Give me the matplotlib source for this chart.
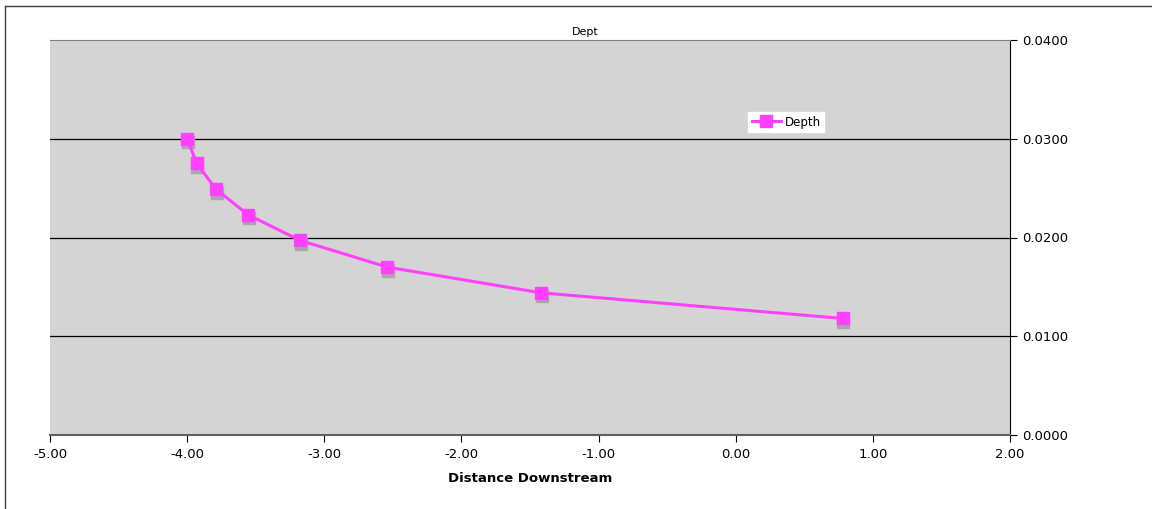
import matplotlib.pyplot as plt
import matplotlib.transforms as mtransforms
from matplotlib.lines import Line2D

# datos
distance = [-4.00, -3.93, -3.79, -3.556, -3.176, -2.54, -1.42, 0.78]
depth = [0.0300, 0.0275, 0.0249, 0.0223, 0.0197, 0.0170, 0.0144, 0.0118]
x_ticks = [-5, -4, -3, -2, -1, 0, 1, 2]
y_ticks = [0.0, 0.01, 0.02, 0.03, 0.04]

plt.rcParams['font.family'] = ['DejaVu Sans']

fig = plt.figure(figsize=(11.52, 5.09), dpi=100)
ax = fig.add_axes([50 / 1152, 1 - 435 / 509, 960 / 1152, 395 / 509])
ax.set_facecolor('#d4d4d4')

# borde exterior (solo arriba e izquierda visibles)
fig.add_artist(Line2D([5 / 1152, 1], [1 - 6 / 509, 1 - 6 / 509], color='#404040', lw=1))
fig.add_artist(Line2D([5 / 1152, 5 / 1152], [0, 1 - 6 / 509], color='#404040', lw=1))

ax.set_xlim(-5, 2)
ax.set_ylim(0, 0.04)

for y in [0.01, 0.02, 0.03]:
    ax.axhline(y, color='black', lw=0.9, zorder=1)

# sombra de los marcadores
off = mtransforms.offset_copy(ax.transData, fig=fig, x=0.7, y=-3.5, units='dots')
ax.plot(distance, depth, linestyle='none', marker='s', markersize=8.5,
        markerfacecolor='#a8a8a8', markeredgecolor='#a8a8a8', transform=off, zorder=2)

ax.plot(distance, depth, color='#ff40ff', lw=2.2, marker='s', markersize=8.5,
        markerfacecolor='#ff40ff', markeredgecolor='#ff40ff', zorder=3, label='Depth')

ax.yaxis.tick_right()
ax.set_yticks(y_ticks)
ax.set_yticklabels([f"{v:.4f}" for v in y_ticks])
ax.set_xticks(x_ticks)
ax.set_xticklabels([f"{v:.2f}" for v in x_ticks])
ax.tick_params(axis='both', labelsize=9.5, direction='out', length=5, width=0.8, pad=4)

ax.spines['left'].set_visible(False)
ax.spines['top'].set_color('#808080')
ax.spines['bottom'].set_color('#606060')
ax.spines['bottom'].set_linewidth(1.5)
ax.spines['right'].set_color('black')

ax.set_xlabel("Distance Downstream", fontsize=9.5, fontweight='bold', labelpad=8)
fig.text(585 / 1152, 1 - 32 / 509, "Dept", fontsize=8, ha='center', va='center')

leg = ax.legend(loc='upper left', bbox_to_anchor=((748 - 50) / 960, (435 - 112) / 395),
                fontsize=8.5, frameon=True, fancybox=False, borderpad=0.3,
                handlelength=2.5, handletextpad=0.3, borderaxespad=0)
leg.get_frame().set_edgecolor('white')
leg.get_frame().set_facecolor('white')
leg.get_frame().set_alpha(1)

fig.savefig("out.png", dpi=100)
